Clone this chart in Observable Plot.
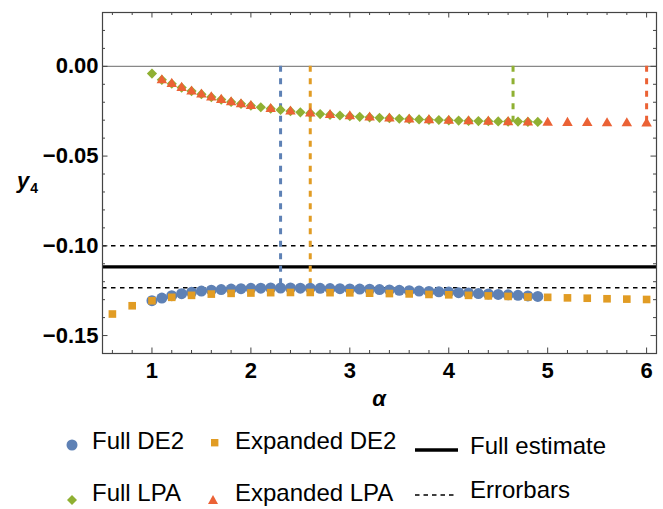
<!DOCTYPE html>
<html><head><meta charset="utf-8">
<script src="https://cdn.jsdelivr.net/npm/d3@7"></script>
<script src="https://cdn.jsdelivr.net/npm/@observablehq/plot@0.6"></script>
<style>
body{margin:0;background:#fff;}
#wrap{position:relative;width:663px;height:509px;font-family:"Liberation Sans",Arial,sans-serif;color:#000;}
.lab{position:absolute;white-space:nowrap;font-size:24px;line-height:24px;}
.ax{position:absolute;white-space:nowrap;font-weight:bold;font-style:italic;font-size:22px;line-height:22px;}
.ic{position:absolute;overflow:visible;}
</style></head><body><div id="wrap"></div>
<script>
// ---- data ----
const alphaFull = [1.0,1.1,1.2,1.3,1.4,1.5,1.6,1.7,1.8,1.9,2.0,2.1,2.2,2.3,2.4,2.5,2.6,2.7,2.8,2.9,3.0,3.1,3.2,3.3,3.4,3.5,3.6,3.7,3.8,3.9,4.0,4.1,4.2,4.3,4.4,4.5,4.6,4.7,4.8,4.9];
const fullDE2 = [-0.1306,-0.1291,-0.1278,-0.1267,-0.1259,-0.1252,-0.1247,-0.1244,-0.1241,-0.1239,-0.1237,-0.1236,-0.1235,-0.1235,-0.1235,-0.1236,-0.1236,-0.1237,-0.1238,-0.1239,-0.1240,-0.1241,-0.1242,-0.1244,-0.1246,-0.1248,-0.1250,-0.1252,-0.1254,-0.1256,-0.1258,-0.1261,-0.1263,-0.1266,-0.1268,-0.1271,-0.1273,-0.1276,-0.1279,-0.1282];
const fullLPA = [-0.0040,-0.0075,-0.0097,-0.0118,-0.0138,-0.0155,-0.0171,-0.0185,-0.0198,-0.0209,-0.0219,-0.0228,-0.0236,-0.0243,-0.0250,-0.0256,-0.0261,-0.0266,-0.0270,-0.0274,-0.0278,-0.0281,-0.0284,-0.0287,-0.0289,-0.0292,-0.0294,-0.0296,-0.0298,-0.0299,-0.0301,-0.0302,-0.0304,-0.0305,-0.0306,-0.0307,-0.0308,-0.0308,-0.0309,-0.0310];
const alphaExpDE2 = [0.6,0.8,1.0,1.2,1.4,1.6,1.8,2.0,2.2,2.4,2.6,2.8,3.0,3.2,3.4,3.6,3.8,4.0,4.2,4.4,4.6,4.8,5.0,5.2,5.4,5.6,5.8,6.0];
const expDE2 = [-0.1380,-0.1334,-0.1306,-0.1287,-0.1276,-0.1269,-0.1265,-0.1263,-0.1261,-0.1260,-0.1260,-0.1261,-0.1262,-0.1264,-0.1266,-0.1268,-0.1271,-0.1273,-0.1276,-0.1279,-0.1282,-0.1285,-0.1287,-0.1290,-0.1292,-0.1295,-0.1297,-0.1299];
const alphaExpLPA = [1.1,1.2,1.3,1.4,1.5,1.6,1.7,1.8,1.9,2.0,2.2,2.4,2.6,2.8,3.0,3.2,3.4,3.6,3.8,4.0,4.2,4.4,4.6,4.8,5.0,5.2,5.4,5.6,5.8,6.0];
const expLPA = [-0.0078,-0.0098,-0.0120,-0.0140,-0.0157,-0.0173,-0.0187,-0.0200,-0.0211,-0.0221,-0.0238,-0.0252,-0.0262,-0.0271,-0.0278,-0.0285,-0.0291,-0.0296,-0.0300,-0.0303,-0.0306,-0.0308,-0.0311,-0.0313,-0.0314,-0.0315,-0.0316,-0.0317,-0.0317,-0.0318];
const fullEstimate = -0.1117;
const errorbars = [-0.1000, -0.1234];
const optAlpha = [2.3, 2.6, 4.65, 6.0];
const optValue = [-0.1235, -0.1260, -0.0308, -0.0318];
const seriesNames = ["Full DE2","Expanded DE2","Full LPA","Expanded LPA"];
const colors = ["#5E81B5","#E19C24","#8FB032","#EB6235"];
const xTicks = [1,2,3,4,5,6];
const yTicks = [0,-0.05,-0.10,-0.15];

// ---- layout ----
const W = 663, H = 420, mT = 12, mB = 67, mL = 102, mR = 7;
const innerH = H - mT - mB, innerW = W - mL - mR;
const frameColor = "#444";
const minorX = d3.range(0.6, 6.05, 0.2).map(v => +v.toFixed(1)).filter(v => !xTicks.includes(v));
const minorY = d3.range(-15, 3).map(v => +(v / 100).toFixed(2)).filter(v => !yTicks.some(t => Math.abs(t - v) < 1e-9));

const tbl = (xs, ys) => xs.map((x, i) => ({x, y: ys[i]}));
const optima = optAlpha.map((x, i) => ({x, y: optValue[i], c: colors[i]}));
const tickFont = "'Liberation Sans', Arial, sans-serif";

const plot = Plot.plot({
  width: W, height: H, marginTop: mT, marginBottom: mB, marginLeft: mL, marginRight: mR,
  x: {domain: [0.5, 6.1], axis: null},
  y: {domain: [-0.16, 0.03], axis: null},
  style: {fontFamily: tickFont, color: "#000", background: "#fff"},
  marks: [
    Plot.ruleY([0], {stroke: "#888", strokeWidth: 1.3}),
    Plot.ruleY(errorbars, {stroke: "#000", strokeWidth: 1.5, strokeDasharray: "4.5,4.5"}),
    Plot.ruleY([fullEstimate], {stroke: "#000", strokeWidth: 3.2}),
    Plot.ruleX(optima, {x: "x", y1: 0, y2: "y", stroke: d => d.c, strokeWidth: 3, strokeDasharray: "6,6.5"}),
    Plot.dot(tbl(alphaFull, fullDE2), {x: "x", y: "y", symbol: "circle", r: 5.5, fill: colors[0]}),
    Plot.dot(tbl(alphaExpDE2, expDE2), {x: "x", y: "y", symbol: "square", r: 4.3, fill: colors[1]}),
    Plot.dot(tbl(alphaFull, fullLPA), {x: "x", y: "y", symbol: "diamond2", r: 4.6, fill: colors[2]}),
    Plot.dot(tbl(alphaExpLPA, expLPA), {x: "x", y: "y", symbol: "triangle", r: 3.9, fill: colors[3]}),
    // inward frame ticks
    Plot.tickX(xTicks, {x: d => d, insetTop: innerH - 5.5, stroke: frameColor}),
    Plot.tickX(minorX, {x: d => d, insetTop: innerH - 3, stroke: frameColor}),
    Plot.tickX(xTicks, {x: d => d, insetBottom: innerH - 5.5, stroke: frameColor}),
    Plot.tickX(minorX, {x: d => d, insetBottom: innerH - 3, stroke: frameColor}),
    Plot.tickY(yTicks, {y: d => d, insetRight: innerW - 5.5, stroke: frameColor}),
    Plot.tickY(minorY, {y: d => d, insetRight: innerW - 3, stroke: frameColor}),
    Plot.tickY(yTicks, {y: d => d, insetLeft: innerW - 5.5, stroke: frameColor}),
    Plot.tickY(minorY, {y: d => d, insetLeft: innerW - 3, stroke: frameColor}),
    Plot.frame({stroke: frameColor, strokeWidth: 1.2}),
    // tick labels
    Plot.text(xTicks, {x: d => d, frameAnchor: "bottom", dy: 9, lineAnchor: "top", text: d3.format("d"),
      fontSize: 22, fontWeight: "bold", fontFamily: tickFont, fill: "#000"}),
    Plot.text(yTicks, {y: d => d, frameAnchor: "left", dx: -4, textAnchor: "end", lineAnchor: "middle", text: d3.format(".2f"),
      fontSize: 22, fontWeight: "bold", fontFamily: tickFont, fill: "#000"})
  ]
});
const wrap = document.getElementById("wrap");
wrap.appendChild(plot);

// axis titles
const add = (html, cls, left, top, extra) => {
  const d = document.createElement("div");
  d.className = cls; d.innerHTML = html;
  d.style.left = left + "px"; d.style.top = top + "px";
  if (extra) Object.assign(d.style, extra);
  wrap.appendChild(d);
  return d;
};
add("α", "ax", 379, 388, {transform: "translateX(-50%)"});
add('y<span style="font-style:normal;font-size:14px;position:relative;top:5px;margin-left:1px">4</span>', "ax", 17, 170);

// legend
const icon = (svg, left, top, w, h) => {
  const s = document.createElementNS("http://www.w3.org/2000/svg", "svg");
  s.setAttribute("class", "ic"); s.setAttribute("width", w); s.setAttribute("height", h);
  s.style.left = left + "px"; s.style.top = top + "px";
  s.innerHTML = svg; wrap.appendChild(s);
};
icon(`<circle cx="6" cy="6" r="5.5" fill="${colors[0]}"/>`, 65.7, 439, 12, 12);
icon(`<rect x="0" y="0" width="7.4" height="7.4" fill="${colors[1]}"/>`, 211.3, 439.3, 8, 8);
icon(`<line x1="0" y1="2" x2="43" y2="2" stroke="#000" stroke-width="3.3"/>`, 415, 448, 44, 4);
icon(`<path d="M6,1 L11,6 L6,11 L1,6 Z" fill="${colors[2]}"/>`, 65.7, 494, 12, 12);
icon(`<path d="M5,0 L10,9 L0,9 Z" fill="${colors[3]}"/>`, 208.3, 495, 10, 10);
icon(`<line x1="0" y1="1" x2="40" y2="1" stroke="#000" stroke-width="1.4" stroke-dasharray="4.5,4"/>`, 415, 494, 41, 3);
add(seriesNames[0], "lab", 92, 429);
add(seriesNames[1], "lab", 235, 429);
add("Full estimate", "lab", 470, 433.7);
add(seriesNames[2], "lab", 92, 481);
add(seriesNames[3], "lab", 235, 481);
add("Errorbars", "lab", 470, 478);
</script>
</body></html>
